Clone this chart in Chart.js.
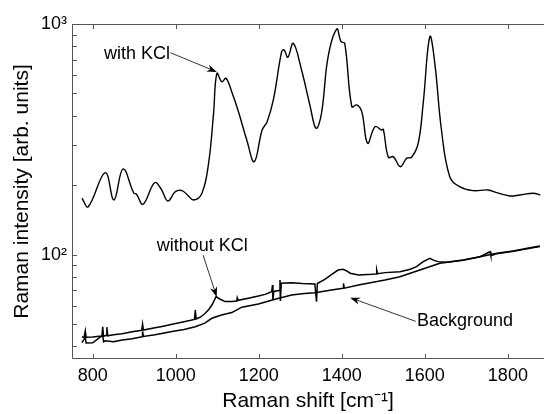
<!DOCTYPE html>
<html>
<head>
<meta charset="utf-8">
<script src="https://cdn.jsdelivr.net/npm/chart.js@4.4.0/dist/chart.umd.min.js"></script>
<style>
  html, body { margin: 0; padding: 0; background: #fff; }
  #wrap { width: 544px; height: 414px; }
</style>
</head>
<body>
<div id="wrap"><canvas id="chart"></canvas></div>
<script>
// Espectro com KCl
const withKClShift = [774, 789, 830, 851, 873, 899, 905, 921, 949, 965, 981, 999, 1015, 1028, 1043, 1063, 1079, 1091, 1099, 1111, 1121, 1136, 1151, 1171, 1189, 1208, 1220, 1235, 1255, 1261, 1270, 1283, 1303, 1323, 1338, 1351, 1367, 1388, 1398, 1407, 1424, 1436, 1448, 1462, 1480, 1496, 1500, 1512, 1524, 1541, 1556, 1568, 1584, 1596, 1612, 1624, 1640, 1660, 1684, 1716, 1752, 1773, 1805, 1829, 1861, 1878];
const withKClIntensity = [175.6, 161.4, 226.7, 172.6, 235.3, 184.6, 183.3, 165.4, 205.2, 192.1, 170.9, 187.6, 189.5, 181.5, 172.6, 184.6, 249, 410, 611, 562, 582, 500.7, 416.8, 314.2, 253, 347.1, 377.2, 468.5, 758.5, 771.5, 717.4, 824.9, 631.9, 445.7, 353.1, 410, 721.7, 951.3, 838.2, 824.9, 438, 445.7, 416.8, 304.1, 358.7, 347.1, 349.6, 264.4, 266, 240.7, 261.8, 264.4, 304.1, 453.3, 881, 675.5, 347.1, 217.8, 197.1, 189.5, 190.8, 185.7, 179.7, 181.5, 184.6, 181.5];

// Espectro sem KCl
const withoutKClShift = [774, 779, 782, 784, 800, 815, 822, 824, 826, 832, 834, 836, 850, 871, 895, 918, 920, 922, 950, 970, 991, 1020, 1045, 1047, 1049, 1060, 1071, 1080, 1087, 1093, 1097, 1102, 1107, 1119, 1135, 1147, 1148, 1150, 1175, 1199, 1215, 1231, 1233, 1234, 1236, 1249, 1251, 1252, 1254, 1279, 1305, 1335, 1339, 1341, 1359, 1375, 1391, 1403, 1412, 1420, 1440, 1472, 1483, 1484, 1486, 1504, 1540, 1565, 1580, 1596, 1612, 1622, 1632, 1652, 1692, 1733, 1773, 1813, 1853, 1877];
const withoutKClIntensity = [44.1, 43.8, 46.8, 43.9, 44.0, 44.3, 44.2, 48.7, 44.3, 44.6, 48.5, 44.5, 45.0, 45.4, 46.3, 47.0, 50.0, 47.1, 48.2, 49.0, 49.9, 51.2, 52.4, 57.6, 52.6, 53.7, 55.7, 58.0, 60.5, 63.5, 65.8, 64.9, 64.1, 62.6, 62.6, 63.0, 65.0, 63.4, 64.8, 66.2, 67.3, 69.1, 73.9, 63.6, 69.3, 70.0, 77.7, 63.0, 75.2, 75.6, 75.0, 74.6, 62.6, 75.0, 78.2, 82.0, 85.8, 86.4, 85.0, 83.1, 81.7, 82.2, 82.5, 85.8, 82.7, 83.6, 84.4, 86.5, 88.7, 93.3, 96.5, 94.5, 93.3, 92.7, 94.8, 98.0, 101.4, 103.8, 107.2, 109.1];

// Fundo
const backgroundShift = [774, 782, 784, 800, 824, 826, 830, 850, 871, 895, 919, 920, 922, 950, 991, 1020, 1047, 1070, 1087, 1110, 1135, 1159, 1199, 1239, 1279, 1310, 1335, 1375, 1403, 1404, 1406, 1440, 1472, 1504, 1540, 1588, 1636, 1692, 1733, 1757, 1759, 1773, 1813, 1853, 1877];
const backgroundIntensity = [41.6, 43.8, 41.4, 41.5, 44.8, 41.9, 42.3, 41.9, 42.7, 43.2, 44.1, 46.5, 44.2, 45.0, 46.4, 47.4, 48.7, 50.5, 53.0, 54.8, 56.1, 59.2, 61.1, 64.1, 66.9, 67.8, 68.4, 70.3, 71.5, 75.0, 71.6, 73.9, 75.8, 77.7, 80.3, 85.8, 91.8, 94.5, 98.0, 103.0, 99.0, 100.8, 103.5, 106.5, 108.5];

// Eixos
const xTicks = [800, 1000, 1200, 1400, 1600, 1800];
const yTicks = [40, 50, 60, 70, 80, 90, 100, 200, 300, 400, 500, 600, 700, 800, 900, 1000];
const yTickLabels = { 100: '10²', 1000: '10³' };

// Anotações (coordenadas de dados)
const notes = [
    { text: 'with KCl', textAt: [986, 741], align: 'right', tail: [987, 751], tip: [1099, 620] },
    { text: 'without KCl', textAt: [1064, 109], align: 'center', tail: [1066, 99.4], tip: [1098.6, 65.6] },
    { text: 'Background', textAt: [1581, 51.6], align: 'left', tail: [1578, 51.4], tip: [1420, 65.1] }
];

const fontFamily = '"Liberation Sans", Arial, Helvetica, sans-serif';
const toPoints = (xs, ys) => xs.map((x, i) => ({ x: x, y: ys[i] }));

function drawArrow(ctx, x0, y0, x1, y1) {
    const ang = Math.atan2(y1 - y0, x1 - x0);
    const len = 10, half = 3.6;
    const c = Math.cos(ang), s = Math.sin(ang);
    ctx.beginPath();
    ctx.moveTo(x0, y0);
    ctx.lineTo(x1 - len * 0.7 * c, y1 - len * 0.7 * s);
    ctx.stroke();
    ctx.beginPath();
    ctx.moveTo(x1, y1);
    ctx.lineTo(x1 - len * c + half * s, y1 - len * s - half * c);
    ctx.lineTo(x1 - len * 0.7 * c, y1 - len * 0.7 * s);
    ctx.lineTo(x1 - len * c - half * s, y1 - len * s + half * c);
    ctx.closePath();
    ctx.fill();
}

const framePlugin = {
    id: 'frame',
    afterDraw(chart) {
        const { ctx, chartArea: a, scales: { x, y } } = chart;
        ctx.save();
        ctx.strokeStyle = '#555';
        ctx.lineWidth = 1;
        ctx.beginPath();
        ctx.moveTo(a.right, a.top + 0.5);
        ctx.lineTo(a.left + 0.5, a.top + 0.5);
        ctx.lineTo(a.left + 0.5, a.bottom - 0.5);
        ctx.lineTo(a.right, a.bottom - 0.5);
        // marcas internas
        xTicks.forEach(v => {
            const px = Math.round(x.getPixelForValue(v)) + 0.5;
            ctx.moveTo(px, a.bottom);
            ctx.lineTo(px, a.bottom - 5);
            ctx.moveTo(px, a.top);
            ctx.lineTo(px, a.top + 5);
        });
        yTicks.forEach(v => {
            const py = Math.round(y.getPixelForValue(v)) + 0.5;
            ctx.moveTo(a.left, py);
            ctx.lineTo(a.left + 5, py);
        });
        ctx.stroke();

        // setas e textos
        ctx.strokeStyle = '#000';
        ctx.fillStyle = '#000';
        ctx.lineWidth = 0.8;
        ctx.font = '18px ' + fontFamily;
        ctx.textBaseline = 'middle';
        notes.forEach(n => {
            ctx.textAlign = n.align;
            ctx.fillText(n.text, x.getPixelForValue(n.textAt[0]), y.getPixelForValue(n.textAt[1]));
            drawArrow(ctx,
                x.getPixelForValue(n.tail[0]), y.getPixelForValue(n.tail[1]),
                x.getPixelForValue(n.tip[0]), y.getPixelForValue(n.tip[1]));
        });
        ctx.restore();
    }
};

const lineStyle = {
    borderColor: '#000',
    pointRadius: 0,
    fill: false
};

new Chart(document.getElementById('chart').getContext('2d'), {
    type: 'line',
    data: {
        datasets: [
            { ...lineStyle, label: 'with KCl', data: toPoints(withKClShift, withKClIntensity), borderWidth: 1.4, tension: 0.4 },
            { ...lineStyle, label: 'without KCl', data: toPoints(withoutKClShift, withoutKClIntensity), borderWidth: 1.5, tension: 0 },
            { ...lineStyle, label: 'Background', data: toPoints(backgroundShift, backgroundIntensity), borderWidth: 1.5, tension: 0 }
        ]
    },
    options: {
        responsive: true,
        maintainAspectRatio: false,
        animation: false,
        layout: { padding: { top: 24, right: 0, left: 0, bottom: 0 } },
        plugins: { legend: { display: false }, tooltip: { enabled: false } },
        scales: {
            x: {
                type: 'linear',
                min: 750,
                max: 1887,
                grid: { display: false, drawTicks: false },
                border: { display: false },
                afterBuildTicks: scale => { scale.ticks = xTicks.map(v => ({ value: v })); },
                afterFit: scale => { scale.height = 55; },
                ticks: {
                    padding: 6,
                    color: '#000',
                    font: { family: fontFamily, size: 18 },
                    maxRotation: 0,
                    autoSkip: false,
                    callback: v => String(v)
                },
                title: {
                    display: true,
                    text: 'Raman shift [cm⁻¹]',
                    color: '#000',
                    font: { family: fontFamily, size: 21 },
                    padding: { top: 0, bottom: 0 }
                }
            },
            y: {
                type: 'logarithmic',
                min: 35.3,
                max: 1000,
                grid: { display: false, drawTicks: false },
                border: { display: false },
                afterBuildTicks: scale => { scale.ticks = yTicks.map(v => ({ value: v })); },
                afterFit: scale => { scale.width = 72; },
                ticks: {
                    padding: 5,
                    color: '#000',
                    font: { family: fontFamily, size: 18 },
                    autoSkip: false,
                    callback: v => yTickLabels[v] || ''
                },
                title: {
                    display: true,
                    text: 'Raman intensity [arb. units]',
                    color: '#000',
                    font: { family: fontFamily, size: 21 },
                    padding: { top: 10, bottom: 0 }
                }
            }
        }
    },
    plugins: [framePlugin]
});
</script>
</body>
</html>
